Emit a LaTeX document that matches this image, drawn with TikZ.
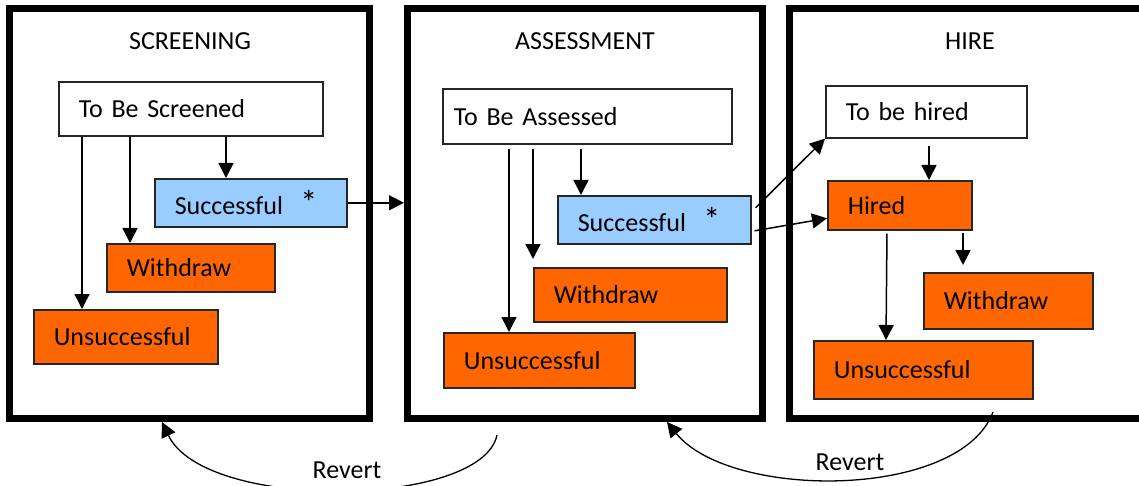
\documentclass[tikz,border=0pt]{standalone}
\usepackage{fontspec}
\setmainfont{Carlito}
\usetikzlibrary{arrows.meta,positioning,calc}
\definecolor{okblue}{HTML}{99CCFF}
\definecolor{badorange}{HTML}{FF6600}
\newcommand{\bigstar}{{\fontsize{17}{15}\selectfont*}}
\begin{document}
\begin{tikzpicture}[x=0.5pt,y=-0.5pt,>={Triangle[length=7.5pt,width=7.5pt]},
   font=\fontsize{13}{15}\selectfont,
   stage/.style={draw,line width=3.5pt,anchor=north west,minimum height=205pt,inner sep=0pt},
   st/.style={draw=black!85,line width=0.8pt,anchor=north west,align=left,inner xsep=10pt,inner ysep=0pt},
   good/.style={st,fill=okblue},
   bad/.style={st,fill=badorange},
   ln/.style={->,line width=0.75pt}]
  \useasboundingbox (0,0) rectangle (1139,486);
  % the three stages
  \node[stage,minimum width=180pt] (fs) at (6,5) {};
  \node[stage,minimum width=177.5pt] (fa) at (404,5) {};
  \node[stage,minimum width=176.5pt] (fh) at (786,5) {};
  \node (ts) at (190,41) {SCREENING};
  \node (ta) at (585,41) {ASSESSMENT};
  \node (th) at (970,41) {HIRE};
  % screening
  \node[st,text width=112pt,minimum height=27pt] (tbs) at (58,81) {To Be Screened};
  \node[good,text width=76pt,minimum height=24pt] (succ1) at (154,178) {Successful~~\bigstar};
  \node[bad,text width=64pt,minimum height=24pt] (wd1) at (106,243) {Withdraw};
  \node[bad,text width=72pt,minimum height=27pt] (uns1) at (33,309) {Unsuccessful};
  % assessment
  \node[st,inner xsep=5.5pt,text width=133.5pt,minimum height=27.5pt] (tba) at (442,88) {To Be Assessed};
  \node[good,text width=76.5pt,minimum height=24pt] (succ2) at (557,195) {Successful~~\bigstar};
  \node[bad,text width=76.5pt,minimum height=27pt] (wd2) at (533,267) {Withdraw};
  \node[bad,text width=75.5pt,minimum height=27.5pt] (uns2) at (443,332) {Unsuccessful};
  % hire
  \node[st,text width=80.5pt,minimum height=26pt] (tbh) at (825,85) {To be hired};
  \node[bad,text width=52pt,minimum height=24.5pt] (hired) at (827,180) {Hired};
  \node[bad,text width=64.5pt,minimum height=28pt] (wd3) at (923,272) {Withdraw};
  \node[bad,text width=89.5pt,minimum height=29pt] (uns3) at (813,340) {Unsuccessful};
  % arrows
  \draw[ln] (tbs.south -| 82,0) -- (uns1.north -| 82,0);
  \draw[ln] (tbs.south -| 130,0) -- (wd1.north -| 130,0);
  \draw[ln] (tbs.south -| 226,0) -- (succ1.north -| 226,0);
  \draw[ln] (succ1.east) -- (succ1.east -| fa.west);
  \draw[ln,shorten <=2pt] (tba.south -| 509,0) -- (uns2.north -| 509,0);
  \draw[ln,shorten <=2pt,shorten >=4pt] (tba.south -| 533,0) -- (wd2.north -| 533,0);
  \draw[ln,shorten <=2pt] (tba.south -| 581,0) -- (succ2.north -| 581,0);
  \draw[ln] ([xshift=2pt,yshift=6pt]succ2.east) -- (tbh.south west);
  \draw[ln] ([xshift=1.5pt,yshift=-5.5pt]succ2.east) -- ([yshift=-6.5pt]hired.west);
  \draw[ln,shorten <=3.5pt] (tbh.south -| 929,0) -- (hired.north -| 929,0);
  \draw[ln,shorten <=1.5pt] (hired.south -| 887,0) -- (uns3.north -| 886,0);
  \draw[ln,shorten <=1pt,shorten >=3.5pt] (hired.south -| 963,0) -- (wd3.north -| 963,0);
  % revert
  \coordinate (r1) at (497,435);
  \coordinate (r2) at (993,412);
  \draw[ln,line width=0.65pt] (r1) .. controls (482,508) and (205,512) .. (fs.south -| 162,0);
  \draw[ln,line width=0.65pt] (r2) .. controls (960,500) and (730,500) .. (fa.south -| 667,0);
  \node (rv1) at (347,470) {Revert};
  \node (rv2) at (850,462) {Revert};
\end{tikzpicture}
\end{document}
